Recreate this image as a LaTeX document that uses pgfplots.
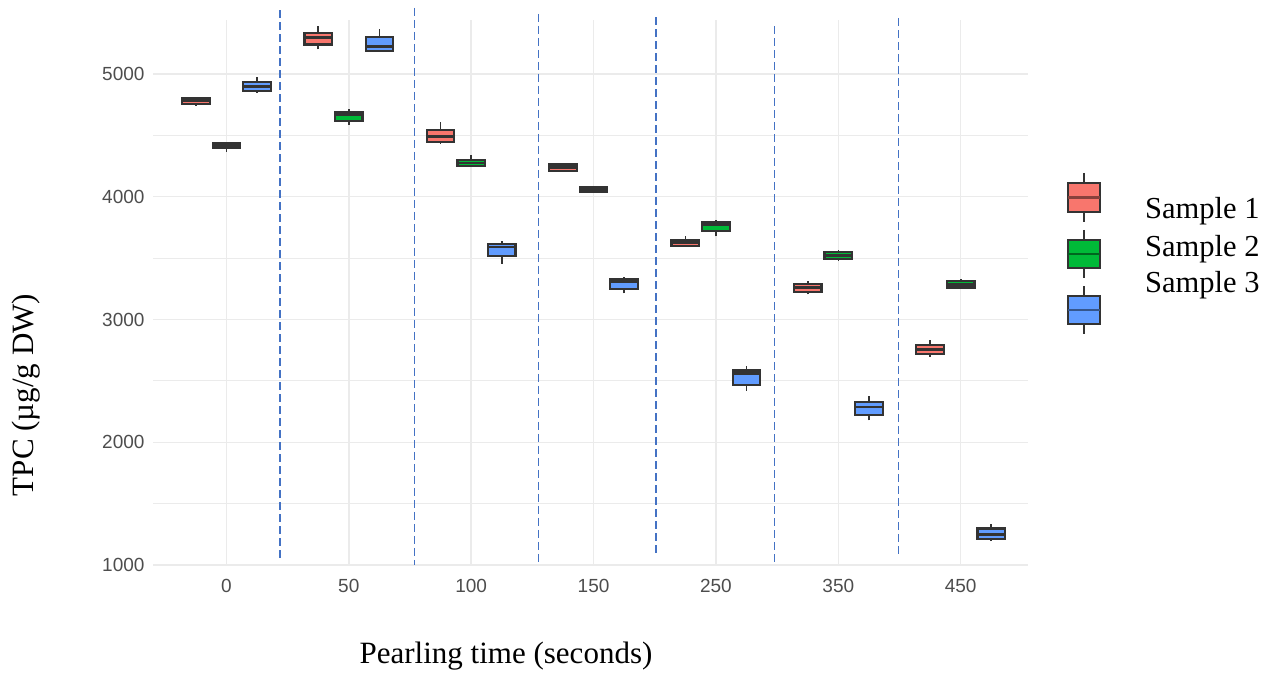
\documentclass[border=0pt]{standalone}
\usepackage{pgfplots}
\pgfplotsset{compat=1.18}
\usepackage{fontspec}
\setmainfont{Liberation Serif}
\newfontfamily\tickfont{Liberation Sans}
\definecolor{sred}{HTML}{F8766D}
\definecolor{sgreen}{HTML}{00BA38}
\definecolor{sblue}{HTML}{619CFF}
\definecolor{gridc}{HTML}{EBEBEB}
\definecolor{dashc}{HTML}{4472C4}
\definecolor{edge}{HTML}{333333}
\definecolor{tickc}{HTML}{4D4D4D}
% #1 position, #2 fill, #3 lower whisker, #4 lower quartile, #5 median, #6 upper quartile, #7 upper whisker
\newcommand{\bx}[7]{%
  \pgfmathsetmacro\xa{#1-0.1125}\pgfmathsetmacro\xb{#1+0.1125}%
  \edef\doit{%
    \noexpand\addplot[edge, line width=1.6pt, forget plot] coordinates {(#1,#3) (#1,#7)};
    \noexpand\addplot[draw=edge, fill=#2, line width=2.2pt, forget plot] coordinates {(\xa,#4) (\xb,#4) (\xb,#6) (\xa,#6)} -- cycle;
    \noexpand\addplot[edge, line width=2.8pt, forget plot] coordinates {(\xa,#5) (\xb,#5)};
  }\doit}
\begin{document}
\begin{tikzpicture}
\path[use as bounding box] (0pt,0pt) rectangle (1273pt,673pt);
\begin{axis}[at={(153pt,108pt)}, anchor=south west, scale only axis,
  width=875pt, height=545pt,
  xmin=-0.6, xmax=6.55, ymin=1000, ymax=5440,
  axis line style={draw=none},
  major tick length=0pt, minor tick length=0pt,
  xtick={0,1,2,3,4,5,6}, xticklabels={0,50,100,150,250,350,450},
  ytick={1000,2000,3000,4000,5000}, minor ytick={1500,2500,3500,4500},
  grid=both,
  major grid style={gridc, line width=1.4pt},
  minor grid style={gridc, line width=0.9pt},
  ticklabel style={font=\tickfont\fontsize{19}{20}\selectfont, text=tickc},
  /pgf/number format/assume math mode=true,
  /pgf/number format/1000 sep={},
  scaled y ticks=false,
  yticklabel style={xshift=-5pt},
  xticklabel style={yshift=-11pt},
  clip=false]
% 0 s
\bx{-0.25}{sred}{4740}{4757}{4781}{4805}{4816}
\bx{0}{sgreen}{4367}{4394}{4420}{4440}{4445}
\bx{0.25}{sblue}{4848}{4862}{4895}{4938}{4976}
% 50 s
\bx{0.75}{sred}{5200}{5241}{5295}{5336}{5395}
\bx{1}{sgreen}{4586}{4619}{4667}{4686}{4714}
\bx{1.25}{sblue}{5190}{5190}{5227}{5303}{5363}
% 100 s
\bx{1.75}{sred}{4430}{4449}{4489}{4543}{4613}
\bx{2}{sgreen}{4250}{4251}{4275}{4300}{4343}
\bx{2.25}{sblue}{3456}{3515}{3590}{3612}{3640}
% 150 s
\bx{2.75}{sred}{4210}{4211}{4240}{4262}{4278}
\bx{3}{sgreen}{4038}{4040}{4060}{4081}{4085}
\bx{3.25}{sblue}{3213}{3250}{3307}{3326}{3343}
% 250 s
\bx{3.75}{sred}{3598}{3599}{3625}{3650}{3680}
\bx{4}{sgreen}{3677}{3720}{3775}{3791}{3813}
\bx{4.25}{sblue}{2418}{2468}{2558}{2585}{2620}
% 350 s
\bx{4.75}{sred}{3204}{3223}{3261}{3288}{3315}
\bx{5}{sgreen}{3477}{3493}{3522}{3550}{3564}
\bx{5.25}{sblue}{2179}{2225}{2287}{2325}{2374}
% 450 s
\bx{5.75}{sred}{2698}{2717}{2753}{2793}{2834}
\bx{6}{sgreen}{3250}{3261}{3288}{3315}{3329}
\bx{6.25}{sblue}{1194}{1211}{1251}{1298}{1336}
% separators
\addplot[dashc, line width=1.5pt, dash pattern=on 8pt off 4pt, forget plot] coordinates {(0.437,5521) (0.437,1024)};
\addplot[dashc, line width=1.5pt, dash pattern=on 8pt off 4pt, forget plot] coordinates {(1.536,5538) (1.536,1000)};
\addplot[dashc, line width=1.5pt, dash pattern=on 8pt off 4pt, forget plot] coordinates {(2.551,5489) (2.551,1000)};
\addplot[dashc, line width=1.5pt, dash pattern=on 8pt off 4pt, forget plot] coordinates {(3.510,5464) (3.510,1081)};
\addplot[dashc, line width=1.5pt, dash pattern=on 8pt off 4pt, forget plot] coordinates {(4.479,5391) (4.479,1000)};
\addplot[dashc, line width=1.5pt, dash pattern=on 8pt off 4pt, forget plot] coordinates {(5.493,5456) (5.493,1057)};
\end{axis}
% axis titles
\node[anchor=base, inner sep=0pt, font=\fontsize{31}{36}\selectfont] at (506pt,10pt) {Pearling time (seconds)};
\node[anchor=base, rotate=90, inner sep=0pt, font=\fontsize{31}{36}\selectfont] at (33pt,278pt) {TPC (µg/g DW)};
% legend keys
\draw[edge, line width=1.5pt] (1084pt,500pt) -- (1084pt,451pt);
\draw[draw=edge, fill=sred, line width=1.8pt] (1068pt,461pt) rectangle (1100pt,490pt);
\draw[sred!55!black, line width=2.2pt] (1068pt,475.5pt) -- (1100pt,475.5pt);
\draw[edge, line width=1.5pt] (1084pt,443pt) -- (1084pt,395pt);
\draw[draw=edge, fill=sgreen, line width=1.8pt] (1068pt,405pt) rectangle (1100pt,433pt);
\draw[sgreen!55!black, line width=2.2pt] (1068pt,419pt) -- (1100pt,419pt);
\draw[edge, line width=1.5pt] (1084pt,387pt) -- (1084pt,339pt);
\draw[draw=edge, fill=sblue, line width=1.8pt] (1068pt,349pt) rectangle (1100pt,377pt);
\draw[sblue!55!black, line width=2.2pt] (1068pt,363pt) -- (1100pt,363pt);
% legend labels
\node[anchor=base west, inner sep=0pt, font=\fontsize{30.5}{36}\selectfont] at (1145pt,454pt) {Sample 1};
\node[anchor=base west, inner sep=0pt, font=\fontsize{30.5}{36}\selectfont] at (1145pt,417pt) {Sample 2};
\node[anchor=base west, inner sep=0pt, font=\fontsize{30.5}{36}\selectfont] at (1145pt,381pt) {Sample 3};
\end{tikzpicture}
\end{document}
